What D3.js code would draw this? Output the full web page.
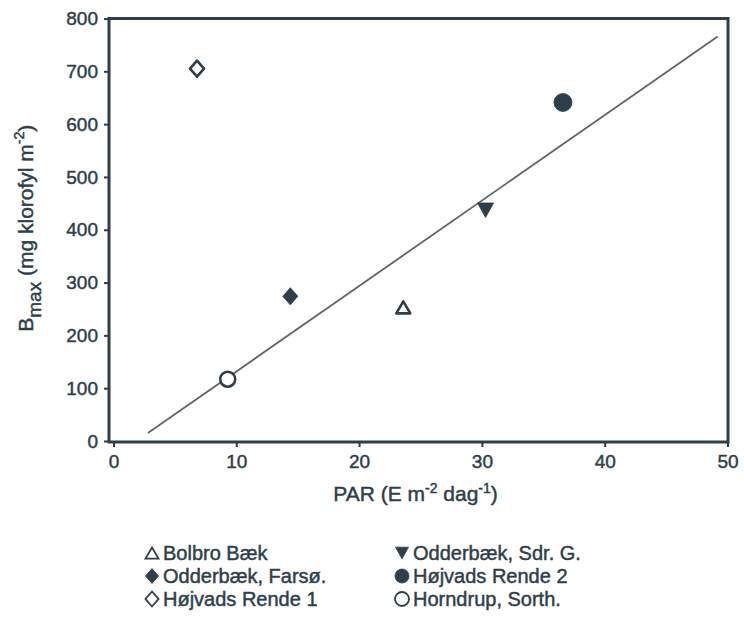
<!DOCTYPE html>
<html>
<head>
<meta charset="utf-8">
<script src="https://cdn.jsdelivr.net/npm/d3@7/dist/d3.min.js"></script>
<style>
  html, body { margin: 0; padding: 0; background: #fff; }
  svg { display: block; font-family: "Liberation Sans", Arial, sans-serif; }
  text { stroke: #2f3e49; stroke-width: 0.45px; }
</style>
</head>
<body>
<svg id="chart" width="744" height="619"></svg>
<script>
// Sites and their measured values
const sites = ["Bolbro Bæk", "Odderbæk, Farsø.", "Højvads Rende 1",
               "Odderbæk, Sdr. G.", "Højvads Rende 2", "Horndrup, Sorth."];
const parValues  = [23.6, 14.4, 6.8, 30.3, 36.6, 9.3];     // PAR (E m-2 dag-1)
const bmaxValues = [253, 274, 705, 437, 641, 117];          // Bmax (mg klorofyl m-2)
const markers    = ["triUpOpen", "diamondFilled", "diamondOpen",
                    "triDownFilled", "circleFilled", "circleOpen"];

// Fitted regression line (endpoints in data units)
const fitX = [2.8, 49.2];
const fitY = [15, 766];

const xTicks = [0, 10, 20, 30, 40, 50];
const yTicks = [0, 100, 200, 300, 400, 500, 600, 700, 800];

const ink = "#2f3e49";
const svg = d3.select("#chart");

const x = d3.scaleLinear().domain([0, 50]).range([113.5, 727.5]);
const y = d3.scaleLinear().domain([0, 800]).range([441, 18.5]);
const frameL = 109, frameR = 728, frameT = 18.5, frameB = 442;

// Custom marker shapes for d3.symbol (size = half-width in px)
const shapes = {
  diamond: { draw(c, s) { const w = s, h = s * 1.15;
    c.moveTo(0, -h); c.lineTo(w, 0); c.lineTo(0, h); c.lineTo(-w, 0); c.closePath(); } },
  triUp: { draw(c, s) { const w = s, h = s * 0.85;
    c.moveTo(0, -h); c.lineTo(w, h); c.lineTo(-w, h); c.closePath(); } },
  triDown: { draw(c, s) { const w = s, h = s * 0.9;
    c.moveTo(-w, -h); c.lineTo(w, -h); c.lineTo(0, h); c.closePath(); } },
  circle: { draw(c, s) { c.moveTo(s, 0); c.arc(0, 0, s, 0, 2 * Math.PI); } }
};
function markerPath(kind, r) {
  const base = kind.replace(/Open|Filled/, "");
  return d3.symbol().type(shapes[base]).size(r)();
}
function isFilled(kind) { return kind.endsWith("Filled"); }
const markerR = { triUpOpen: 7, diamondFilled: 7.5, diamondOpen: 7, triDownFilled: 8, circleFilled: 9, circleOpen: 7.5 };

// Axes
const yAxis = d3.axisLeft(y).tickValues(yTicks).tickSize(5).tickPadding(6).tickSizeOuter(0);
const xAxis = d3.axisBottom(x).tickValues(xTicks).tickSize(5).tickPadding(8).tickSizeOuter(0);

const gy = svg.append("g").attr("transform", `translate(${frameL},0)`).call(yAxis);
const gx = svg.append("g").attr("transform", `translate(0,${frameB})`).call(xAxis);
[gx, gy].forEach(g => {
  g.select(".domain").remove();
  g.selectAll(".tick line").attr("stroke", ink).attr("stroke-width", 2);
  g.selectAll(".tick text").attr("fill", ink).attr("font-size", 19).attr("font-family", "Liberation Sans, Arial, sans-serif");
});

// Frame
svg.append("rect")
  .attr("x", frameL).attr("y", frameT)
  .attr("width", frameR - frameL).attr("height", frameB - frameT)
  .attr("fill", "none").attr("stroke", ink).attr("stroke-width", 3);

// Regression line
svg.append("line")
  .attr("x1", x(fitX[0])).attr("y1", y(fitY[0]))
  .attr("x2", x(fitX[1])).attr("y2", y(fitY[1]))
  .attr("stroke", "#5f6569").attr("stroke-width", 1.8);

// Points
svg.append("g").selectAll("path")
  .data(sites.map((s, i) => ({ s, px: parValues[i], b: bmaxValues[i], m: markers[i] })))
  .join("path")
  .attr("transform", d => `translate(${x(d.px)},${y(d.b)})`)
  .attr("d", d => markerPath(d.m, markerR[d.m]))
  .attr("fill", d => isFilled(d.m) ? ink : "#fff")
  .attr("stroke", ink)
  .attr("stroke-width", d => isFilled(d.m) ? 0.8 : 2.6)
  .attr("stroke-linejoin", "round");

// Y axis title
const yt = svg.append("text")
  .attr("transform", `translate(33,${(frameT + frameB) / 2 - 2}) rotate(-90)`)
  .attr("text-anchor", "middle").attr("fill", ink).attr("font-size", 21);
yt.append("tspan").text("B");
yt.append("tspan").attr("dy", 8).attr("font-size", 19).text("max");
yt.append("tspan").attr("dy", -8).text(" (mg klorofyl m");
yt.append("tspan").attr("dy", -9).attr("font-size", 14).text("-2");
yt.append("tspan").attr("dy", 9).text(")");

// X axis title
const xt = svg.append("text")
  .attr("x", (frameL + frameR) / 2 - 3).attr("y", 501)
  .attr("text-anchor", "middle").attr("fill", ink).attr("font-size", 21);
xt.append("tspan").text("PAR (E m");
xt.append("tspan").attr("dy", -8).attr("font-size", 14).text("-2");
xt.append("tspan").attr("dy", 8).text(" dag");
xt.append("tspan").attr("dy", -8).attr("font-size", 14).text("-1");
xt.append("tspan").attr("dy", 8).text(")");

// Legend: two columns of three
const legendCols = [152, 402];
const legendRows = [553, 576, 599];
const lg = svg.append("g").selectAll("g")
  .data(sites.map((s, i) => ({ s, m: markers[i], col: Math.floor(i / 3), row: i % 3 })))
  .join("g")
  .attr("transform", d => `translate(${legendCols[d.col]},${legendRows[d.row]})`);
lg.append("path")
  .attr("d", d => markerPath(d.m, d.m.startsWith("circle") ? 7 : 6.5))
  .attr("fill", d => isFilled(d.m) ? ink : "#fff")
  .attr("stroke", ink)
  .attr("stroke-width", d => isFilled(d.m) ? 0.8 : 1.8);
lg.append("text")
  .attr("x", 11).attr("y", 7)
  .attr("fill", ink).attr("font-size", 20)
  .text(d => d.s);
</script>
</body>
</html>
